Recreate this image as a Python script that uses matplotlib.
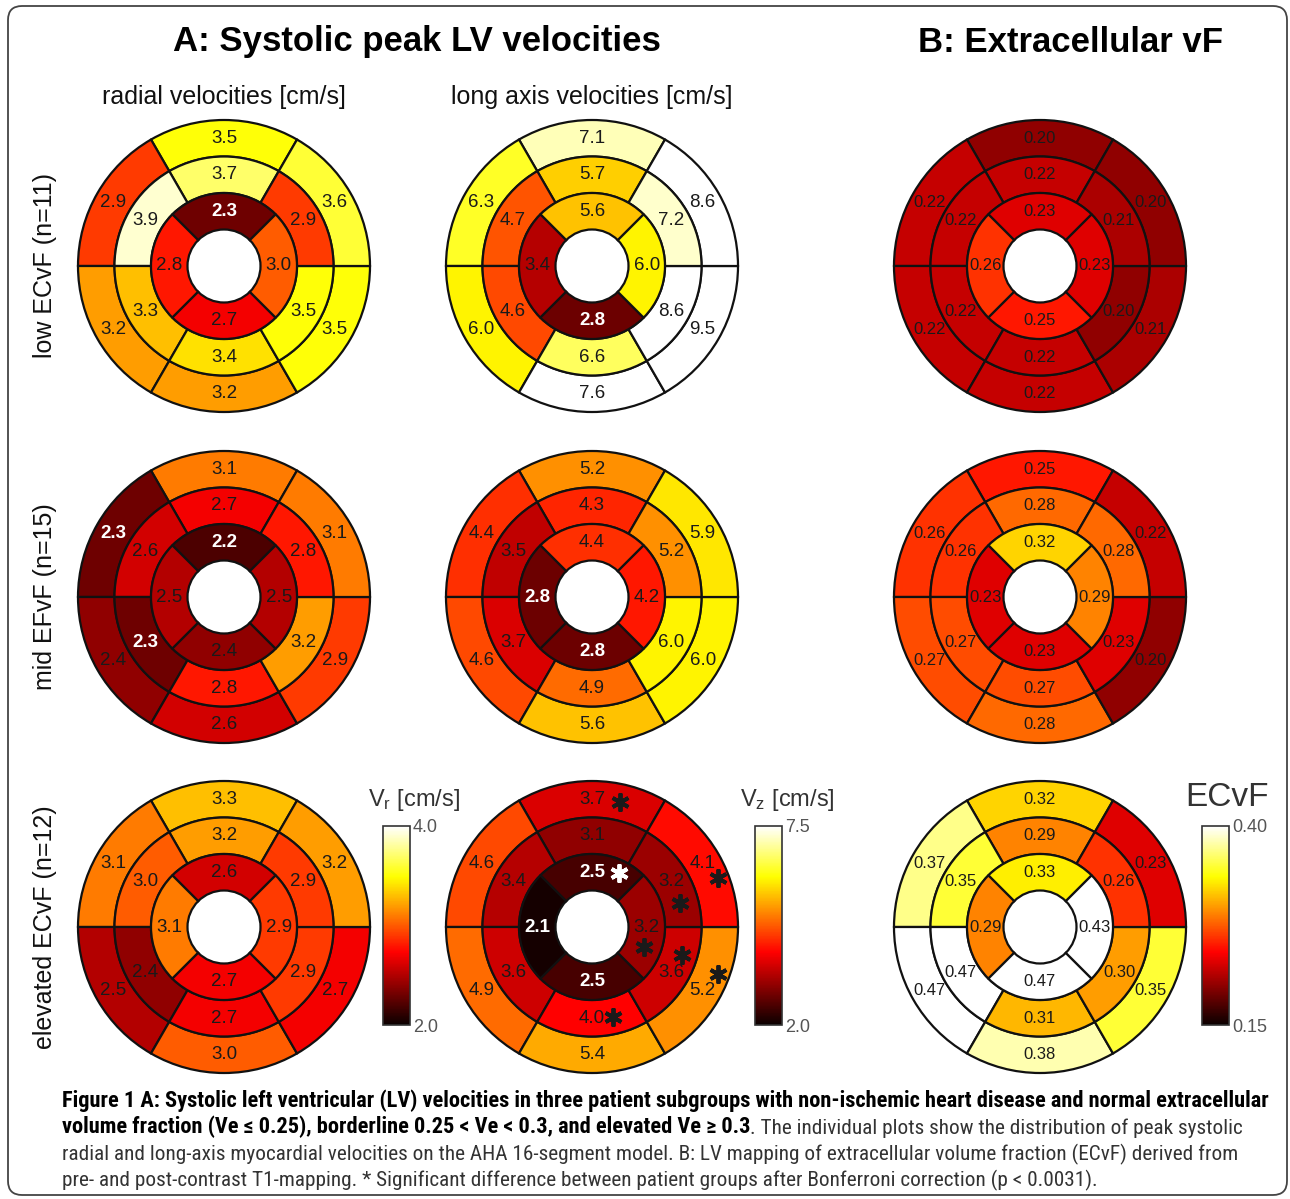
#!/usr/bin/env python3
'''
AHA 16-segment bullseye maps of systolic peak LV velocities (radial and long axis)
and of the extracellular volume fraction, for three patient subgroups
'''

import numpy as np
import matplotlib
matplotlib.use('Agg')
import matplotlib.pyplot as plt
from matplotlib import font_manager
from matplotlib.colors import Normalize
from matplotlib.cm import ScalarMappable
from matplotlib.patches import FancyBboxPatch
from matplotlib.transforms import offset_copy

plt.rcParams['font.family'] = ['Liberation Sans', 'DejaVu Sans']

# AHA order: 1-6 basal, 7-12 mid, 13-16 apical
# basal/mid: anterior, anteroseptal, inferoseptal, inferior, inferolateral, anterolateral
# apical: anterior, septal, inferior, lateral
vr_low = [3.5, 2.9, 3.2, 3.2, 3.5, 3.6,
          3.7, 3.9, 3.3, 3.4, 3.5, 2.9,
          2.3, 2.8, 2.7, 3.0]
vz_low = [7.1, 6.3, 6.0, 7.6, 9.5, 8.6,
          5.7, 4.7, 4.6, 6.6, 8.6, 7.2,
          5.6, 3.4, 2.8, 6.0]
ecv_low = [0.20, 0.22, 0.22, 0.22, 0.21, 0.20,
           0.22, 0.22, 0.22, 0.22, 0.20, 0.21,
           0.23, 0.26, 0.25, 0.23]

vr_mid = [3.1, 2.3, 2.4, 2.6, 2.9, 3.1,
          2.7, 2.6, 2.3, 2.8, 3.2, 2.8,
          2.2, 2.5, 2.4, 2.5]
vz_mid = [5.2, 4.4, 4.6, 5.6, 6.0, 5.9,
          4.3, 3.5, 3.7, 4.9, 6.0, 5.2,
          4.4, 2.8, 2.8, 4.2]
ecv_mid = [0.25, 0.26, 0.27, 0.28, 0.20, 0.22,
           0.28, 0.26, 0.27, 0.27, 0.23, 0.28,
           0.32, 0.23, 0.23, 0.29]

vr_high = [3.3, 3.1, 2.5, 3.0, 2.7, 3.2,
           3.2, 3.0, 2.4, 2.7, 2.9, 2.9,
           2.6, 3.1, 2.7, 2.9]
vz_high = [3.7, 4.6, 4.9, 5.4, 5.2, 4.1,
           3.1, 3.4, 3.6, 4.0, 3.6, 3.2,
           2.5, 2.1, 2.5, 3.2]
ecv_high = [0.32, 0.37, 0.47, 0.38, 0.35, 0.23,
            0.29, 0.35, 0.47, 0.31, 0.30, 0.26,
            0.33, 0.29, 0.47, 0.43]

# segments with significant difference between groups (Bonferroni)
vz_high_signif = [1, 5, 6, 10, 11, 12, 13, 16]

row_labels = ['low ECvF (n=11)', 'mid EFvF (n=15)', 'elevated ECvF (n=12)']
col_titles = ['radial velocities [cm/s]', 'long axis velocities [cm/s]']
cbar_labels = [r'$\mathregular{V_r}$ [cm/s]', r'$\mathregular{V_z}$ [cm/s]', 'ECvF']
ranges = [(2.0, 4.0), (2.0, 7.5), (0.15, 0.40)]
fmts = ['%.1f', '%.1f', '%.2f']

caption = [
    'Figure 1 A: Systolic left ventricular (LV) velocities in three patient subgroups with '
    'non-ischemic heart disease and normal extracellular',
    'volume fraction (Ve \u2264 0.25), borderline 0.25 < Ve < 0.3, and elevated Ve \u2265 0.3',
    '. The individual plots show the distribution of peak systolic',
    'radial and long-axis myocardial velocities on the AHA 16-segment model. B: LV mapping of '
    'extracellular volume fraction (ECvF) derived from',
    'pre- and post-contrast T1-mapping. * Significant difference between patient groups after '
    'Bonferroni correction (p < 0.0031).',
]

# pixel offsets of the asterisks from their segment label
star_offset = {1: (28, -3), 6: (15, -15), 12: (9, -22), 13: (27, -1),
               16: (-3, -20), 11: (11, 18), 5: (15, 17), 10: (21, 1)}

W, H = 1290, 1199
fig = plt.figure(figsize=(W / 100, H / 100), dpi=100)
bg = fig.add_axes([0, 0, 1, 1])
bg.set_xlim(0, W)
bg.set_ylim(H, 0)
bg.axis('off')

cmap = plt.get_cmap('hot')
col_x = [224, 592, 1040]
row_y = [266, 597, 927]
R = 146

basal_th = np.deg2rad([90, 150, 210, 270, 330, 30])
apical_th = np.deg2rad([90, 180, 270, 0])


def bullseye(cx, cy, values, norm, fmt, fontsize, signif=()):
    ax = fig.add_axes([(cx - R) / W, (H - cy - R) / H, 2 * R / W, 2 * R / H],
                      projection='polar')
    values = np.asarray(values)
    rings = [(basal_th, 0.75, values[0:6], 0),
             (basal_th, 0.50, values[6:12], 6),
             (apical_th, 0.25, values[12:16], 12)]
    for th, r0, vals, first in rings:
        width = 2 * np.pi / len(th)
        ax.bar(th, 0.25, width=width, bottom=r0, color=cmap(norm(vals)),
               edgecolor='#111111', linewidth=1.6, clip_on=False)
        for k, (t, v) in enumerate(zip(th, vals)):
            c = 'white' if norm(v) < 0.18 else '#1a1a1a'
            ax.text(t, r0 + 0.125, fmt % v, ha='center', va='center',
                    fontsize=fontsize, color=c, fontweight='bold' if c == 'white' else 'normal')
            seg = first + k + 1
            if seg in signif:
                dx, dy = star_offset[seg]
                tr = offset_copy(ax.transData, fig=fig, x=dx, y=dy, units='dots')
                ax.plot([t], [r0 + 0.125], marker=(6, 2, 0), ms=13, mew=2.8,
                        color=c, transform=tr, clip_on=False)
    ax.set_ylim(0, 1)
    ax.set_axis_off()
    return ax


groups = [[vr_low, vz_low, ecv_low],
          [vr_mid, vz_mid, ecv_mid],
          [vr_high, vz_high, ecv_high]]

for i in range(3):
    for j in range(3):
        norm = Normalize(*ranges[j])
        signif = vz_high_signif if (i == 2 and j == 1) else ()
        bullseye(col_x[j], row_y[i], groups[i][j], norm, fmts[j],
                 12 if j == 2 else 13.5, signif)

# colorbars in the bottom row
cbar_x = [383, 755, 1202]
cb_top, cb_bot = 826, 1025
lab_x = [368, 740, 1185]
for j in range(3):
    norm = Normalize(*ranges[j])
    cax = fig.add_axes([cbar_x[j] / W, (H - cb_bot) / H, 27 / W, (cb_bot - cb_top) / H])
    cb = fig.colorbar(ScalarMappable(norm=norm, cmap=cmap), cax=cax,
                      ticks=[norm.vmin, norm.vmax], format=fmts[j])
    cb.outline.set_linewidth(1.2)
    cb.outline.set_edgecolor('#333333')
    cax.tick_params(length=0, labelsize=13, labelcolor='#555555', pad=2)
    bg.text(lab_x[j], 800 if j < 2 else 797, cbar_labels[j], va='center', ha='left',
            fontsize=17 if j < 2 else 24, color='#333333')

# titles
bg.text(417, 42, 'A: Systolic peak LV velocities', ha='center', va='center',
        fontsize=25, fontweight='bold')
bg.text(1070, 42, 'B: Extracellular vF', ha='center', va='center',
        fontsize=25, fontweight='bold')
for j in range(2):
    bg.text(col_x[j], 97, col_titles[j], ha='center', va='center', fontsize=18,
            fontweight='medium', color='#111111')
for i in range(3):
    bg.text(45, row_y[i], row_labels[i], ha='center', va='center', rotation=90,
            fontsize=18, color='#111111')

# caption: pick a narrow face if one is installed, then fit lines to the reference widths
cap_font = 'Liberation Sans'
for name in ['Liberation Sans Narrow', 'DejaVu Sans Condensed', 'Roboto Condensed']:
    try:
        font_manager.findfont(name, fallback_to_default=False)
        cap_font = name
        break
    except ValueError:
        pass
cap_font = [cap_font, 'DejaVu Sans']

cap_y = [1101, 1127, 1154, 1180]
renderer = fig.canvas.get_renderer()
t1 = bg.text(62, cap_y[0], caption[0], va='center', fontsize=14, fontweight='bold',
             family=cap_font)
fs_b = 14 * 1214 / t1.get_window_extent(renderer).width
t1.set_fontsize(fs_b)
t3 = bg.text(62, cap_y[2], caption[3], va='center', fontsize=14, color='#333333',
             family=cap_font)
fs_r = 14 * 1181 / t3.get_window_extent(renderer).width
t3.set_fontsize(fs_r)
t2 = bg.text(62, cap_y[1], caption[1], va='center', fontsize=fs_b, fontweight='bold',
             family=cap_font)
bg.annotate(caption[2], xy=(1, 0), xycoords=t2, va='bottom', ha='left', fontsize=fs_r,
            color='#333333', family=cap_font)
bg.text(62, cap_y[3], caption[4], va='center', fontsize=fs_r, color='#333333', family=cap_font)

bg.add_patch(FancyBboxPatch((8, 6), 1279, 1189, boxstyle='round,pad=0,rounding_size=14',
                            fill=False, edgecolor='#444444', linewidth=1.3))

fig.savefig('out.png', dpi=100)
